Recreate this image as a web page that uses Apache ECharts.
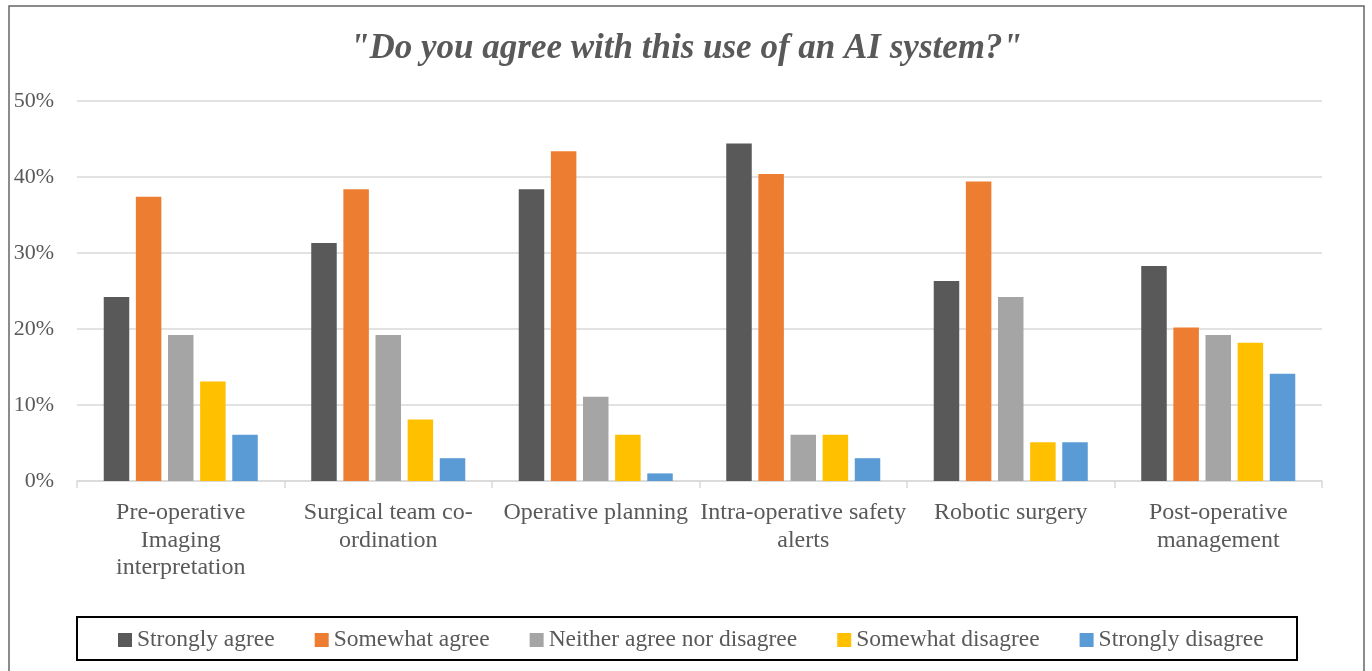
<!DOCTYPE html>
<html>
<head>
<meta charset="utf-8">
<script src="https://cdn.jsdelivr.net/npm/echarts@6/dist/echarts.min.js"></script>
<style>html,body{margin:0;padding:0;background:#fff}#c{width:1372px;height:671px}</style>
</head>
<body>
<div id="c"></div>
<script>
const categories = [
  "Pre-operative\nImaging\ninterpretation",
  "Surgical team co-\nordination",
  "Operative planning",
  "Intra-operative safety\nalerts",
  "Robotic surgery",
  "Post-operative\nmanagement"
];
const seriesNames = ["Strongly agree", "Somewhat agree", "Neither agree nor disagree", "Somewhat disagree", "Strongly disagree"];
const stronglyAgree = [24.2, 31.3, 38.4, 44.4, 26.3, 28.3];
const somewhatAgree = [37.4, 38.4, 43.4, 40.4, 39.4, 20.2];
const neither = [19.2, 19.2, 11.1, 6.1, 24.2, 19.2];
const somewhatDisagree = [13.1, 8.1, 6.1, 6.1, 5.1, 18.2];
const stronglyDisagree = [6.1, 3.0, 1.0, 3.0, 5.1, 14.1];
const yTicks = [0, 10, 20, 30, 40, 50];
const colors = ["#595959", "#ED7D31", "#A5A5A5", "#FFC000", "#5B9BD5"];
const values = [stronglyAgree, somewhatAgree, neither, somewhatDisagree, stronglyDisagree];

const FONT = "'Liberation Serif', 'Times New Roman', serif";
const chart = echarts.init(document.getElementById('c'));
chart.setOption({
  animation: false,
  title: {
    text: '"Do you agree with this use of an AI system?"',
    left: 'center',
    top: 26,
    textStyle: { fontFamily: FONT, fontSize: 35, fontWeight: 'bold', fontStyle: 'italic', color: '#595959' }
  },
  grid: { left: 77, right: 50, top: 101, bottom: 190, containLabel: false },
  legend: {
    data: seriesNames,
    left: 113,
    top: 623,
    itemWidth: 14,
    itemHeight: 14,
    itemGap: 40,
    icon: 'rect',
    textStyle: { fontFamily: FONT, fontSize: 23.5, color: '#595959' }
  },
  xAxis: {
    type: 'category',
    data: categories,
    axisLine: { lineStyle: { color: '#d9d9d9', width: 1.5 } },
    axisTick: { show: true, length: 7, lineStyle: { color: '#d9d9d9', width: 1.5 } },
    axisLabel: { interval: 0, margin: 18, fontFamily: FONT, fontSize: 24, lineHeight: 27.5, color: '#595959' }
  },
  yAxis: {
    type: 'value',
    min: yTicks[0],
    max: yTicks[yTicks.length - 1],
    interval: 10,
    axisLine: { show: false },
    axisTick: { show: false },
    splitLine: { lineStyle: { color: '#d9d9d9', width: 1.5 } },
    axisLabel: { formatter: '{value}%', margin: 23, fontFamily: FONT, fontSize: 22, color: '#595959' }
  },
  series: seriesNames.map((n, i) => ({
    name: n,
    type: 'bar',
    data: values[i],
    barWidth: 25.5,
    barGap: '26%',
    itemStyle: { color: colors[i] }
  })),
  graphic: [
    { type: 'rect', shape: { x: 9, y: 6, width: 1355, height: 700 }, style: { fill: 'none', stroke: '#666', lineWidth: 1.5 }, silent: true },
    { type: 'rect', shape: { x: 77, y: 617, width: 1220, height: 43 }, style: { fill: 'none', stroke: '#000', lineWidth: 2 }, silent: true }
  ]
});
</script>
</body>
</html>
